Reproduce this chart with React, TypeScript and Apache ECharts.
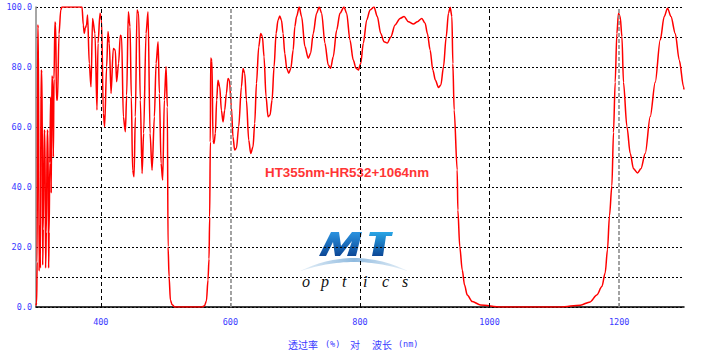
import React, { useEffect, useRef } from "react";
import * as echarts from "echarts";

// ---- data: wavelength (nm), transmittance (%) ----
const uvRegion: [number, number][] = [
  [300, 0.5], [301, 1.5], [301.8, 15], [302.6, 94], [303.6, 93], [304.8, 12], [305.8, 27], [306.8, 13],
  [307.8, 79], [309.3, 78], [310.3, 14], [311.2, 26], [312.6, 59], [313.8, 58], [314.8, 13], [316, 25],
  [317.3, 59], [318.5, 58], [319.5, 13], [320.3, 25], [321.3, 48], [322.6, 70], [323.5, 38], [324.5, 77],
  [325.8, 76], [326.8, 50], [327.8, 76], [329.2, 95], [330.4, 94], [331.6, 69], [333.2, 69], [335.5, 91],
  [338.2, 99], [340, 100], [371, 100],
];
const blueRegion: [number, number][] = [
  [373, 94], [374.5, 91.2], [376, 92.9], [378, 94], [379.6, 97.3], [382.2, 81.2], [384.9, 73.4],
  [387.3, 96.2], [391, 91.2], [394.1, 65.7], [395.7, 87.9], [398.8, 97.9], [401.2, 95.7], [403.9, 64.6],
  [405.9, 60.1], [409, 80.1], [411.1, 91.8], [413.1, 87.9], [415.8, 71.2], [419.3, 86.2], [422.4, 85.6],
  [424.4, 75.1], [427.5, 81.2], [430.1, 90.6], [432.1, 90.1], [434.8, 63.4], [437.9, 58.4], [439.9, 70.6],
  [442.5, 98.4], [445.1, 93.4], [447.1, 70.1], [449.1, 45.6], [451.3, 43.4], [453.3, 63.4], [455.9, 99],
  [458.4, 97.9], [461, 69], [463.7, 44.5], [466.1, 57.9], [469.8, 91.2], [472.9, 98.4], [476, 57.9],
  [479.1, 45.6], [482.7, 63.4], [485.3, 81.2], [488.4, 88.4], [490.4, 71.2], [493, 47.9], [495.5, 42.3],
  [498.1, 69], [500.7, 80.1], [502.7, 66.7], [503.8, 20.1], [505.4, 10.1], [507.4, 2.3], [510, 0.8],
];
const stopBand532: [number, number][] = [
  [514, 0], [556, 0], [560, 0.4], [563, 2], [565.4, 9], [567, 16], [568, 30], [569, 55],
];
const visRegion: [number, number][] = [
  [569.6, 83], [571.6, 82], [573.1, 55.6], [574.7, 54.5], [576.8, 57.9], [578.8, 69], [580.8, 75.6],
  [583.5, 73.4], [586.1, 65.6], [588.6, 61.7], [591.2, 65.6], [593.8, 71.2], [596.3, 76.2], [598.5, 75.6],
  [601.5, 66.7], [604, 56.7], [606.6, 52.3], [609.3, 52.9], [612.8, 60.1], [617, 73.4], [619.5, 79.5],
  [622.1, 77.9], [624.7, 69], [628.3, 55.6], [631.4, 51.2], [634.9, 53.4], [637.5, 61.2], [640.2, 74.5],
  [643.7, 86.7], [646.8, 91.2], [649.4, 90.1], [651.9, 83.4], [655, 70.1], [658.1, 63.4], [661.2, 64],
  [664.3, 69], [667.4, 80.1], [670.5, 91.2], [673.5, 95.6], [676.2, 97], [678.8, 95.6], [681.3, 91.2],
  [683.9, 84.5], [687, 79.5], [690.1, 77.9], [693.2, 79.5], [696.9, 85.7], [699.4, 93.4], [702.1, 96.8],
  [706.2, 100], [709.9, 96.8], [715, 86.8], [720.1, 82.9], [723.8, 84.6], [727.8, 91.2], [733, 97.9],
  [737.1, 100], [740.8, 97.9], [745.9, 87.9], [751, 80.7], [754.7, 79.6], [758.7, 83.4], [764, 92.3],
  [769.1, 97.9], [775.3, 100], [779.4, 97.9], [784.5, 89], [789.6, 82.3], [793.8, 79.6], [797.4, 79],
  [801.1, 81.2], [805.1, 87.9], [810.4, 95.7], [815.5, 99], [821.6, 100], [826.7, 96.8], [832, 91.2],
  [837.1, 88.4], [842.2, 88], [847.5, 90], [854.1, 94], [861.8, 96.2], [868, 96.8], [874.7, 95.1],
  [882.4, 94.3], [888.6, 95.1], [895.4, 96.2], [900.5, 94.6], [904, 91.2], [908.2, 85.7], [912.4, 79],
  [916.4, 75.6], [921, 73.2], [924.8, 74], [928.8, 80], [933, 90], [936.5, 97.9], [939.1, 99.9],
  [941.8, 96.8], [943.3, 81.2], [945.3, 65.7],
];
const stopBand1064: [number, number][] = [
  [950, 45.7], [951, 32.3], [954, 20], [957.8, 12.3], [961.4, 7.3], [965.5, 4], [973.3, 1.8], [986, 0.7],
  [1017, 0], [1110, 0], [1140, 0.6], [1155.2, 1.7], [1165.5, 4], [1173.3, 6.8], [1178.4, 11.4],
  [1181.9, 19.1], [1185, 30.4], [1188.7, 40.4],
];
const nirRegion: [number, number][] = [
  [1191.2, 58.2], [1193.8, 74.9], [1196.4, 91.2], [1198.9, 97.9], [1201.5, 96.8], [1204.2, 90.1],
  [1206.6, 74.9], [1211.9, 60.2], [1217, 51.2], [1222.1, 46.1], [1228.3, 44.7], [1233.5, 46.1],
  [1240.2, 51.2], [1247.9, 63.5], [1255.6, 74.9], [1263.3, 89], [1269.5, 96.8], [1274.6, 99.6],
  [1279.9, 96.8], [1286.5, 91.2], [1292.7, 82.3], [1299.3, 73.4], [1300, 72.5],
];

const xLabelValues = [400, 600, 800, 1000, 1200];
const gridBlackX = [400, 800, 1000];
const gridGrayX = [600, 1200];
const titleText = "HT355nm-HR532+1064nm";
const xNameParts = ["透过率", "(%)", "对", "波长", "(nm)"];
const logoLetters = ["o", "p", "t", "i", "c", "s"];

const BLUE = "#3a3aff";
const MONO = '"DejaVu Sans Mono", monospace';

export default function App() {
  const ref = useRef<HTMLDivElement>(null);
  useEffect(() => {
    document.body.style.margin = "0";
    const chart = echarts.init(ref.current!, undefined, { renderer: "svg" });
    const data = [...uvRegion, ...blueRegion, ...stopBand532, ...visRegion, ...stopBand1064, ...nirRegion];

    const txt = (x: number, y: number, text: string, font: string, fill: string, align = "left") => ({
      type: "text", x, y, silent: true,
      style: { text, font, fill, textAlign: align, textVerticalAlign: "middle" },
    });

    // logo arc (lens shape)
    const arcPts: number[][] = [];
    const N = 30;
    for (let i = 0; i <= N; i++) {
      const t = i / N; const b = 1 - (2 * t - 1) ** 2;
      arcPts.push([301 + 106 * t, 270.5 - 12.5 * b]);
    }
    for (let i = N; i >= 0; i--) {
      const t = i / N; const b = 1 - (2 * t - 1) ** 2;
      arcPts.push([301 + 106 * t, 271 - 9 * b]);
    }
    const logoGrad = new echarts.graphic.LinearGradient(0, 0, 0, 1, [
      { offset: 0, color: "#2b93e0" }, { offset: 1, color: "#0c4796" },
    ]);
    const letterX = [302, 321, 342, 363, 382, 402];

    const graphic: any[] = [
      txt(265, 172, titleText, 'bold 13.4px "Liberation Sans", Arial, sans-serif', "#ff3535"),
      {
        type: "polygon", silent: true,
        shape: { points: [[319, 256], [331, 232], [339, 232], [341, 246], [352, 232], [362, 232], [356, 256], [347, 256], [352, 241], [340, 256], [335, 256], [333, 242], [326, 256]] },
        style: { fill: logoGrad },
      },
      {
        type: "polygon", silent: true,
        shape: { points: [[370, 232], [393, 232], [392, 236], [386, 236], [383, 256], [372, 256], [376, 236], [369, 236]] },
        style: { fill: new echarts.graphic.LinearGradient(0, 0, 0, 1, [{ offset: 0, color: "#29a6e6" }, { offset: 1, color: "#0c4796" }]) },
      },
      {
        type: "polygon", silent: true, shape: { points: arcPts },
        style: { fill: new echarts.graphic.LinearGradient(0, 0, 1, 0, [
          { offset: 0, color: "#e8f1f8" }, { offset: 0.5, color: "#8fbadf" }, { offset: 1, color: "#e8f1f8" },
        ]) },
      },
      ...logoLetters.map((l, i) => txt(letterX[i], 281, l, 'italic 16px "Liberation Serif", serif', "#111")),
      txt(288, 344, xNameParts[0], '10px "Noto Sans CJK SC", sans-serif', BLUE),
      txt(325, 344, xNameParts[1], `8.5px ${MONO}`, BLUE),
      txt(350, 344, xNameParts[2], '10px "Noto Sans CJK SC", sans-serif', BLUE),
      txt(372, 344, xNameParts[3], '10px "Noto Sans CJK SC", sans-serif', BLUE),
      txt(398, 344, xNameParts[4], `8.5px ${MONO}`, BLUE),
    ];

    chart.setOption({
      animation: false,
      backgroundColor: "#fff",
      grid: { left: 36, right: 21, top: 7, bottom: 51 },
      xAxis: {
        type: "value", min: 300, max: 1300, interval: 100,
        axisLine: { show: true, onZero: false, lineStyle: { color: "#000", width: 1.5 } },
        axisTick: { show: true, inside: true, length: 4, customValues: xLabelValues, lineStyle: { color: "#888" } },
        axisLabel: {
          customValues: xLabelValues, formatter: (v: number) => String(v),
          color: BLUE, fontFamily: MONO, fontSize: 8.5, margin: 10,
        },
        splitLine: { show: false },
      },
      yAxis: {
        type: "value", min: 0, max: 100, interval: 10,
        axisLine: { show: true, lineStyle: { color: "#888", width: 1.5 } },
        axisTick: { show: false },
        axisLabel: {
          formatter: (v: number) => (v % 20 === 0 ? v.toFixed(1) : ""),
          color: BLUE, fontFamily: MONO, fontSize: 8.5, margin: 4,
        },
        splitLine: { show: true, lineStyle: { color: "#000", type: [2, 2], width: 1 } },
      },
      series: [{
        type: "line", data, symbol: "none", showSymbol: false,
        smooth: 0.3, smoothMonotone: "x",
        lineStyle: { color: "#ff0000", width: 1.5 },
        markLine: {
          silent: true, symbol: ["none", "none"], label: { show: false },
          data: [
            ...gridBlackX.map((x) => ({ xAxis: x, lineStyle: { color: "#000", type: [4, 3], width: 1 } })),
            ...gridGrayX.map((x) => ({ xAxis: x, lineStyle: { color: "#8c8c8c", type: [4, 2], width: 1.6 } })),
          ],
        },
      }],
      graphic,
    });
    return () => chart.dispose();
  }, []);
  return <div ref={ref} style={{ position: "fixed", left: 0, top: 0, width: 705, height: 358 }} />;
}
